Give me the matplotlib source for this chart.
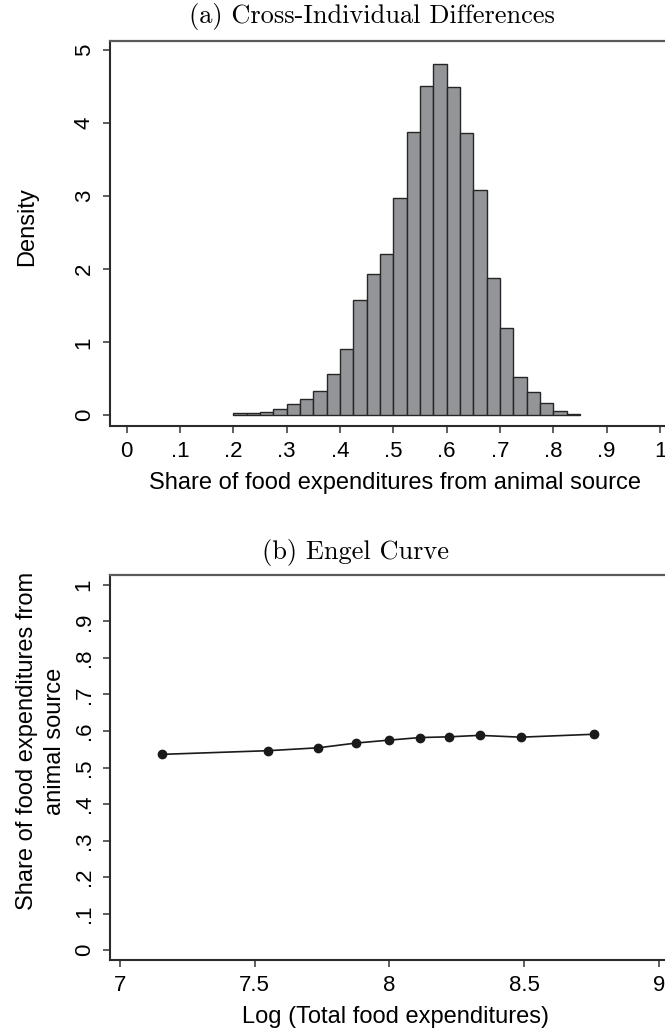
import numpy as np
import matplotlib
matplotlib.use("agg")
import matplotlib.pyplot as plt

plt.rcParams["font.family"] = ["Liberation Sans", "DejaVu Sans"]

# (a) histogram of the animal-source share
BIN_EDGES = [0.200, 0.225, 0.250, 0.275, 0.300, 0.325, 0.350, 0.375, 0.400,
             0.425, 0.450, 0.475, 0.500, 0.525, 0.550, 0.575, 0.600, 0.625,
             0.650, 0.675, 0.700, 0.725, 0.750, 0.775, 0.800, 0.825, 0.850]
DENSITY = [0.025, 0.034, 0.045, 0.090, 0.148, 0.228, 0.334, 0.571, 0.904,
           1.575, 1.940, 2.210, 2.970, 3.880, 4.510, 4.810, 4.500, 3.870,
           3.090, 1.880, 1.200, 0.530, 0.325, 0.173, 0.065, 0.015]
SHARE_TICKS = [0, .1, .2, .3, .4, .5, .6, .7, .8, .9, 1]
SHARE_LABELS = ["0", ".1", ".2", ".3", ".4", ".5", ".6", ".7", ".8", ".9", "1"]
DENSITY_TICKS = [0, 1, 2, 3, 4, 5]

# (b) Engel curve
LOG_FOOD = [7.157, 7.549, 7.737, 7.877, 8.000, 8.114, 8.222, 8.335, 8.488, 8.758]
ANIMAL_SHARE = [0.536, 0.546, 0.554, 0.567, 0.575, 0.582, 0.584, 0.588, 0.583, 0.591]
LOG_TICKS = [7, 7.5, 8, 8.5, 9]
LOG_LABELS = ["7", "7.5", "8", "8.5", "9"]
SHARE_Y_LABELS = ["0", ".1", ".2", ".3", ".4", ".5", ".6", ".7", ".8", ".9", "1"]

W, H = 665, 1028
fig = plt.figure(figsize=(W / 100, H / 100), dpi=100)


def px_axes(left, top, right, bottom):
	return fig.add_axes([left / W, 1 - bottom / H, (right - left) / W, (bottom - top) / H])


def stata_style(ax):
	for side in ("left", "bottom"):
		ax.spines[side].set_color("#2b2b2b")
		ax.spines[side].set_linewidth(1.5)
	ax.spines["top"].set_color("#5a5a5a")
	ax.spines["top"].set_linewidth(1.6)
	ax.spines["right"].set_visible(False)
	ax.tick_params(direction="out", length=5, width=1.1, color="#333333",
		labelsize=16, pad=6, top=False, right=False)
	for lab in ax.get_yticklabels():
		lab.set_rotation(90)
		lab.set_va("center")


# ---- panel (a)
ax1 = px_axes(110, 41, 680, 426)
ax1.bar(BIN_EDGES[:-1], DENSITY, width=np.diff(BIN_EDGES), align="edge",
	color="#939598", edgecolor="#262626", linewidth=1.0)
ax1.set_xlim(-0.0313, 1.0375)
ax1.set_ylim(-0.147, 5.127)
ax1.set_xticks(SHARE_TICKS)
ax1.set_xticklabels(SHARE_LABELS)
ax1.set_yticks(DENSITY_TICKS)
ax1.set_yticklabels([str(t) for t in DENSITY_TICKS])
ax1.set_xlabel("Share of food expenditures from animal source", fontsize=17, labelpad=7)
ax1.set_ylabel("Density", fontsize=17)
ax1.yaxis.set_label_coords(-0.126, 0.519)
stata_style(ax1)

# ---- panel (b)
ax2 = px_axes(110, 575, 680, 960)
ax2.plot(LOG_FOOD, ANIMAL_SHARE, color="#1a1a1a", linewidth=1.2,
	marker="o", markersize=6, markerfacecolor="#1a1a1a", markeredgecolor="#1a1a1a")
ax2.set_xlim(6.963, 9.079)
ax2.set_ylim(-0.027, 1.027)
ax2.set_xticks(LOG_TICKS)
ax2.set_xticklabels(LOG_LABELS)
ax2.set_yticks(np.arange(0, 1.01, 0.1))
ax2.set_yticklabels(SHARE_Y_LABELS)
ax2.set_xlabel("Log (Total food expenditures)", fontsize=17, labelpad=7)
ax2.set_ylabel("Share of food expenditures from\nanimal source", fontsize=17,
	linespacing=1.35)
ax2.yaxis.set_label_coords(-0.077, 0.569)
stata_style(ax2)

# panel titles (serif, as in the LaTeX subcaptions)
fig.text(372 / W, 1 - 17 / H, "(a) Cross-Individual Differences", family="cmr10",
	fontsize=19, ha="center", va="center")
fig.text(356 / W, 1 - 553 / H, "(b) Engel Curve", family="cmr10",
	fontsize=19, ha="center", va="center")

plt.savefig("out.png", dpi=100)
